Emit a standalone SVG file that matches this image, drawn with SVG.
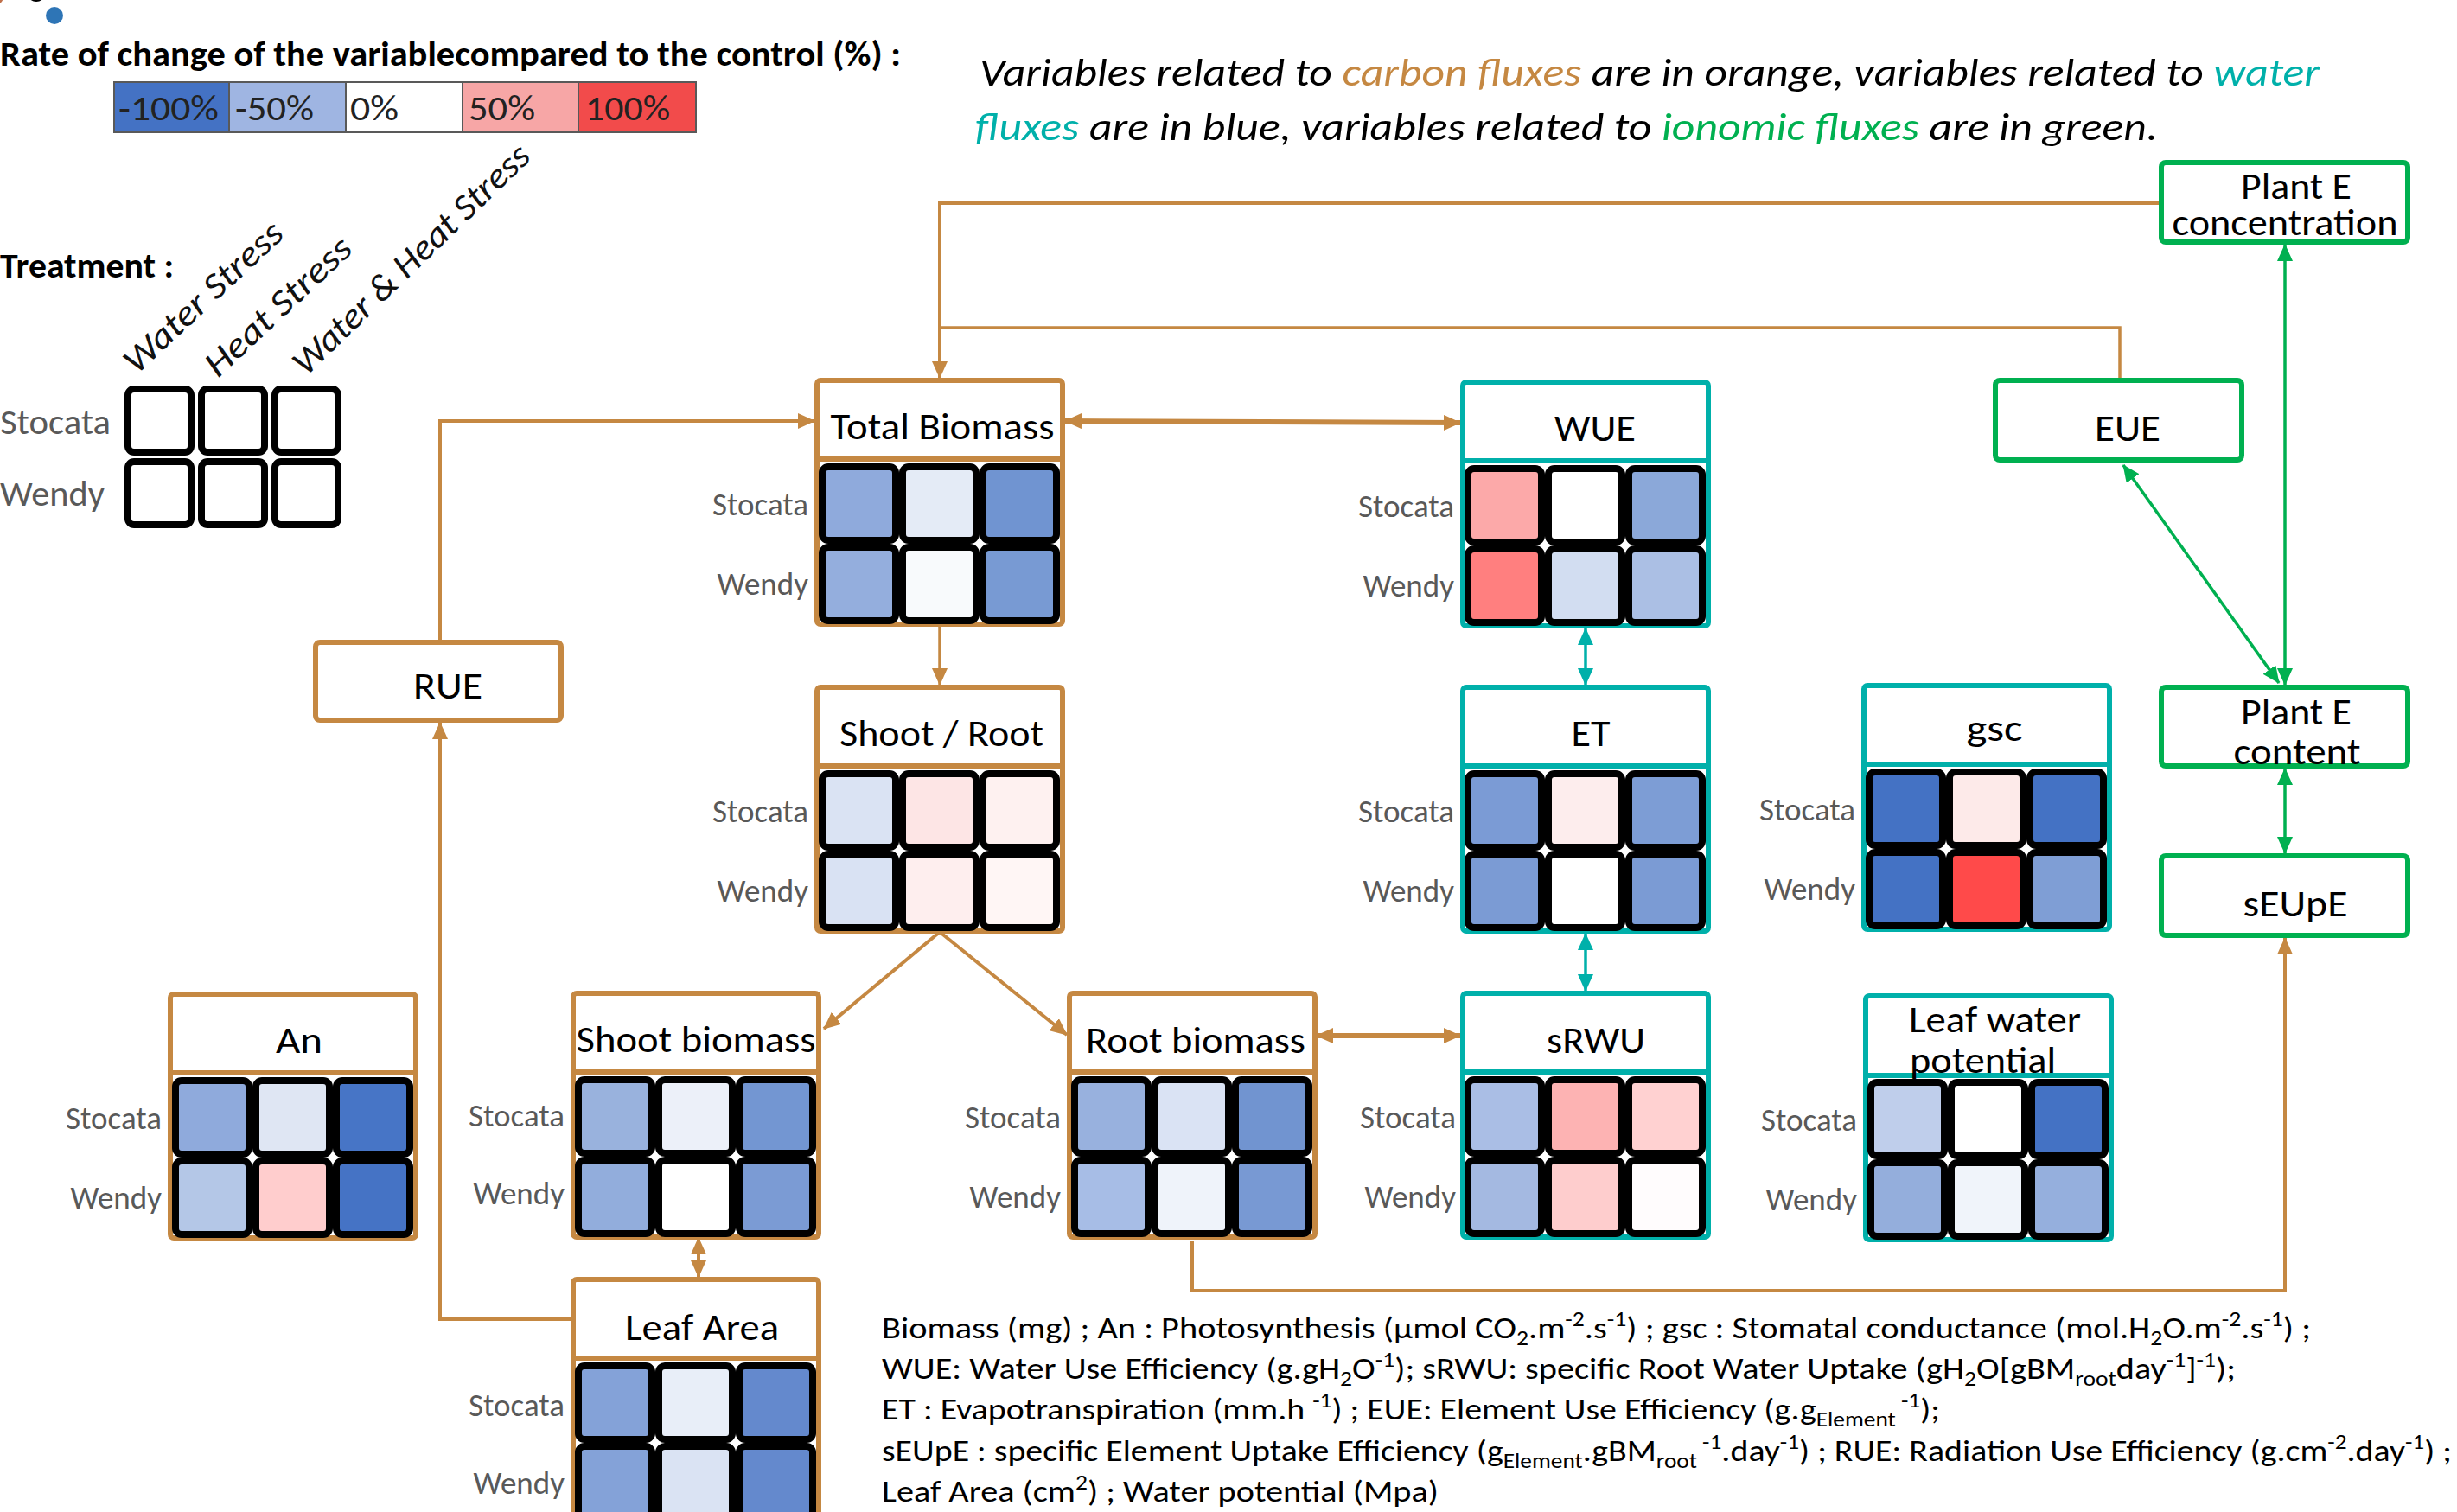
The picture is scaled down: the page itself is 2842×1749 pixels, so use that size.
<svg xmlns="http://www.w3.org/2000/svg" width="2842" height="1749" viewBox="0 0 2842 1749">
<style>
text{font-family:Carlito,Lato,"Liberation Sans",sans-serif}
.ob{fill:#fff;stroke:#C58842;stroke-width:6}
.tb{fill:#fff;stroke:#00B0AA;stroke-width:6}
.gb{fill:#fff;stroke:#00B050;stroke-width:6}
.os{stroke:#C58842;stroke-width:6}
.ts{stroke:#00B0AA;stroke-width:6}
.c{stroke:#000;stroke-width:8}
.lc{fill:#fff;stroke:#000;stroke-width:8}
.ti{font-size:44px;fill:#000;text-anchor:middle}
.lb{font-size:37px;fill:#595959;text-anchor:end}
.lg{font-size:40px;fill:#595959}
.co{fill:none;stroke:#C58842;stroke-width:4}
.ct{fill:none;stroke:#00B0AA;stroke-width:3.5}
.cg{fill:none;stroke:#00B050;stroke-width:3.5}
.rot{font-size:42px;font-style:italic;fill:#111}
.bt{font-size:35px;fill:#000}
.sc{font-size:40px;fill:#222}
</style>
<defs>
<marker id="ao" viewBox="0 0 20 18" refX="19" refY="9" markerWidth="20" markerHeight="18" markerUnits="userSpaceOnUse" orient="auto-start-reverse"><path d="M0,0 L20,9 L0,18 z" fill="#C58842"/></marker>
<marker id="at" viewBox="0 0 20 18" refX="19" refY="9" markerWidth="20" markerHeight="18" markerUnits="userSpaceOnUse" orient="auto-start-reverse"><path d="M0,0 L20,9 L0,18 z" fill="#00B0AA"/></marker>
<marker id="ag" viewBox="0 0 20 18" refX="19" refY="9" markerWidth="20" markerHeight="18" markerUnits="userSpaceOnUse" orient="auto-start-reverse"><path d="M0,0 L20,9 L0,18 z" fill="#00B050"/></marker>
</defs>
<rect width="2842" height="1749" fill="#fff"/>

<!-- logo remnants -->
<circle cx="-6" cy="-4" r="10" fill="#C0704A"/>
<circle cx="42" cy="-9" r="11" fill="#000"/>
<circle cx="63" cy="18" r="10" fill="#2E75B6"/>

<!-- legend -->
<g id="legend">
<text x="0" y="76" font-size="40" font-weight="bold" fill="#000" textLength="1042" lengthAdjust="spacingAndGlyphs">Rate of change of the variablecompared to the control (%) :</text>
<rect x="132" y="95" width="133" height="58" fill="#4472C4" stroke="#595959" stroke-width="2"/>
<rect x="265" y="95" width="135" height="58" fill="#9FB5E2" stroke="#595959" stroke-width="2"/>
<rect x="400" y="95" width="135" height="58" fill="#FFFFFF" stroke="#595959" stroke-width="2"/>
<rect x="535" y="95" width="134" height="58" fill="#F7A6A6" stroke="#595959" stroke-width="2"/>
<rect x="669" y="95" width="136" height="58" fill="#F24B4B" stroke="#595959" stroke-width="2"/>
<text class="sc" x="137" y="139" textLength="116" lengthAdjust="spacingAndGlyphs">-100%</text>
<text class="sc" x="272" y="139" textLength="91" lengthAdjust="spacingAndGlyphs">-50%</text>
<text class="sc" x="405" y="139" textLength="56" lengthAdjust="spacingAndGlyphs">0%</text>
<text class="sc" x="542" y="139" textLength="77" lengthAdjust="spacingAndGlyphs">50%</text>
<text class="sc" x="677" y="139" textLength="98" lengthAdjust="spacingAndGlyphs">100%</text>
<text x="0" y="321" font-size="40" font-weight="bold" fill="#000" textLength="201" lengthAdjust="spacingAndGlyphs">Treatment :</text>
<text class="rot" transform="translate(158,434) rotate(-43)" textLength="236" lengthAdjust="spacingAndGlyphs">Water Stress</text>
<text class="rot" transform="translate(252,438) rotate(-43)" textLength="216" lengthAdjust="spacingAndGlyphs">Heat Stress</text>
<text class="rot" transform="translate(354,436) rotate(-44)" textLength="364" lengthAdjust="spacingAndGlyphs">Water &amp; Heat Stress</text>
<rect class="lc" x="148" y="450" width="73" height="73" rx="7"/>
<rect class="lc" x="233" y="450" width="73" height="73" rx="7"/>
<rect class="lc" x="318" y="450" width="73" height="73" rx="7"/>
<rect class="lc" x="148" y="534" width="73" height="73" rx="7"/>
<rect class="lc" x="233" y="534" width="73" height="73" rx="7"/>
<rect class="lc" x="318" y="534" width="73" height="73" rx="7"/>
<text class="lg" x="0" y="502" textLength="128" lengthAdjust="spacingAndGlyphs">Stocata</text>
<text class="lg" x="0" y="585" textLength="121" lengthAdjust="spacingAndGlyphs">Wendy</text>
</g>

<!-- header note -->
<text x="1133" y="99" font-size="46" font-style="italic" fill="#000" textLength="1550" lengthAdjust="spacingAndGlyphs">Variables related to <tspan fill="#C58842">carbon fluxes</tspan> are in orange, variables related to <tspan fill="#00B0AA">water</tspan></text>
<text x="1128" y="162" font-size="46" font-style="italic" fill="#000" textLength="1368" lengthAdjust="spacingAndGlyphs"><tspan fill="#00B0AA">fluxes</tspan> are in blue, variables related to <tspan fill="#00B050">ionomic fluxes</tspan> are in green.</text>

<!-- connectors -->
<g id="connectors">
<polyline class="co" points="2498,235 1087,235 1087,437" marker-end="url(#ao)"/>
<polyline class="co" points="2452,437 2452,379 1087,379" style="stroke-width:3.5"/>
<polyline class="co" points="509,740 509,487 942,487" marker-end="url(#ao)"/>
<line class="co" x1="1232" y1="487" x2="1689" y2="489" style="stroke-width:6" marker-start="url(#ao)" marker-end="url(#ao)"/>
<line class="co" x1="1087" y1="725" x2="1087" y2="792" style="stroke-width:3.5" marker-end="url(#ao)"/>
<line class="co" x1="1087" y1="1078" x2="953" y2="1190" marker-end="url(#ao)"/>
<line class="co" x1="1087" y1="1078" x2="1234" y2="1197" marker-end="url(#ao)"/>
<line class="co" x1="1523" y1="1198" x2="1689" y2="1198" style="stroke-width:6" marker-start="url(#ao)" marker-end="url(#ao)"/>
<line class="ct" x1="1834" y1="727" x2="1834" y2="792" marker-start="url(#at)" marker-end="url(#at)"/>
<line class="ct" x1="1834" y1="1080" x2="1834" y2="1146" marker-start="url(#at)" marker-end="url(#at)"/>
<line class="co" x1="808" y1="1432" x2="808" y2="1477" marker-start="url(#ao)" marker-end="url(#ao)"/>
<polyline class="co" points="660,1526 509,1526 509,836" marker-end="url(#ao)"/>
<polyline class="co" points="1379,1435 1379,1493 2643,1493 2643,1085" marker-end="url(#ao)"/>
<line class="cg" x1="2643" y1="283" x2="2643" y2="792" marker-start="url(#ag)" marker-end="url(#ag)"/>
<line class="cg" x1="2456" y1="538" x2="2636" y2="790" marker-start="url(#ag)" marker-end="url(#ag)"/>
<line class="cg" x1="2643" y1="889" x2="2643" y2="987" marker-start="url(#ag)" marker-end="url(#ag)"/>
</g>

<!-- grid nodes -->
<g id="total-biomass" transform="translate(942,437)">
<rect class="ob" x="3" y="3" width="284" height="282" rx="4"/><line class="os" x1="3" y1="94" x2="287" y2="94"/>
<rect class="c" x="9" y="103" width="85" height="85" rx="7" fill="#8FAADC"/><rect class="c" x="102" y="103" width="85" height="85" rx="7" fill="#E4EBF6"/><rect class="c" x="195" y="103" width="85" height="85" rx="7" fill="#7094D1"/>
<rect class="c" x="9" y="196" width="85" height="85" rx="7" fill="#94AEDD"/><rect class="c" x="102" y="196" width="85" height="85" rx="7" fill="#F8FAFC"/><rect class="c" x="195" y="196" width="85" height="85" rx="7" fill="#789AD3"/>
<text class="ti" x="148" y="71" textLength="259" lengthAdjust="spacingAndGlyphs">Total Biomass</text>
<text class="lb" x="-7" y="159">Stocata</text><text class="lb" x="-7" y="251">Wendy</text>
</g>

<g id="shoot-root" transform="translate(942,792)">
<rect class="ob" x="3" y="3" width="284" height="282" rx="4"/><line class="os" x1="3" y1="94" x2="287" y2="94"/>
<rect class="c" x="9" y="103" width="85" height="85" rx="7" fill="#DAE3F3"/><rect class="c" x="102" y="103" width="85" height="85" rx="7" fill="#FDE5E5"/><rect class="c" x="195" y="103" width="85" height="85" rx="7" fill="#FEF1F0"/>
<rect class="c" x="9" y="196" width="85" height="85" rx="7" fill="#D9E2F3"/><rect class="c" x="102" y="196" width="85" height="85" rx="7" fill="#FEEEEE"/><rect class="c" x="195" y="196" width="85" height="85" rx="7" fill="#FFF6F5"/>
<text class="ti" x="147" y="71" textLength="236" lengthAdjust="spacingAndGlyphs">Shoot / Root</text>
<text class="lb" x="-7" y="159">Stocata</text><text class="lb" x="-7" y="251">Wendy</text>
</g>

<g id="wue" transform="translate(1689,439)">
<rect class="tb" x="3" y="3" width="284" height="282" rx="4"/><line class="ts" x1="3" y1="94" x2="287" y2="94"/>
<rect class="c" x="9" y="103" width="85" height="85" rx="7" fill="#FCA9A9"/><rect class="c" x="102" y="103" width="85" height="85" rx="7" fill="#FFFFFF"/><rect class="c" x="195" y="103" width="85" height="85" rx="7" fill="#8BA8D9"/>
<rect class="c" x="9" y="196" width="85" height="85" rx="7" fill="#FF7F7F"/><rect class="c" x="102" y="196" width="85" height="85" rx="7" fill="#D2DDF1"/><rect class="c" x="195" y="196" width="85" height="85" rx="7" fill="#ABBFE4"/>
<text class="ti" x="156" y="71" textLength="94" lengthAdjust="spacingAndGlyphs">WUE</text>
<text class="lb" x="-7" y="159">Stocata</text><text class="lb" x="-7" y="251">Wendy</text>
</g>

<g id="et" transform="translate(1689,792)">
<rect class="tb" x="3" y="3" width="284" height="282" rx="4"/><line class="ts" x1="3" y1="94" x2="287" y2="94"/>
<rect class="c" x="9" y="103" width="85" height="85" rx="7" fill="#7B9BD5"/><rect class="c" x="102" y="103" width="85" height="85" rx="7" fill="#FDEDED"/><rect class="c" x="195" y="103" width="85" height="85" rx="7" fill="#7D9DD5"/>
<rect class="c" x="9" y="196" width="85" height="85" rx="7" fill="#7B9BD4"/><rect class="c" x="102" y="196" width="85" height="85" rx="7" fill="#FFFFFF"/><rect class="c" x="195" y="196" width="85" height="85" rx="7" fill="#7B9BD4"/>
<text class="ti" x="151" y="71" textLength="45" lengthAdjust="spacingAndGlyphs">ET</text>
<text class="lb" x="-7" y="159">Stocata</text><text class="lb" x="-7" y="251">Wendy</text>
</g>

<g id="srwu" transform="translate(1689,1146)">
<rect class="tb" x="3" y="3" width="284" height="282" rx="4"/><line class="ts" x1="3" y1="94" x2="287" y2="94"/>
<rect class="c" x="9" y="103" width="85" height="85" rx="7" fill="#AABEE5"/><rect class="c" x="102" y="103" width="85" height="85" rx="7" fill="#FDB3B3"/><rect class="c" x="195" y="103" width="85" height="85" rx="7" fill="#FFD1D1"/>
<rect class="c" x="9" y="196" width="85" height="85" rx="7" fill="#A4B9E1"/><rect class="c" x="102" y="196" width="85" height="85" rx="7" fill="#FECDCD"/><rect class="c" x="195" y="196" width="85" height="85" rx="7" fill="#FFFCFD"/>
<text class="ti" x="157" y="72" textLength="114" lengthAdjust="spacingAndGlyphs">sRWU</text>
<text class="lb" x="-5" y="159">Stocata</text><text class="lb" x="-5" y="251">Wendy</text>
</g>

<g id="gsc" transform="translate(2153,790)">
<rect class="tb" x="3" y="3" width="284" height="282" rx="4"/><line class="ts" x1="3" y1="94" x2="287" y2="94"/>
<rect class="c" x="9" y="103" width="85" height="85" rx="7" fill="#4472C4"/><rect class="c" x="102" y="103" width="85" height="85" rx="7" fill="#FDEAE9"/><rect class="c" x="195" y="103" width="85" height="85" rx="7" fill="#4472C4"/>
<rect class="c" x="9" y="196" width="85" height="85" rx="7" fill="#4472C4"/><rect class="c" x="102" y="196" width="85" height="85" rx="7" fill="#FF4A4A"/><rect class="c" x="195" y="196" width="85" height="85" rx="7" fill="#7F9ED5"/>
<text class="ti" x="154" y="67" textLength="65" lengthAdjust="spacingAndGlyphs">gsc</text>
<text class="lb" x="-7" y="159">Stocata</text><text class="lb" x="-7" y="251">Wendy</text>
</g>

<g id="leaf-water-potential" transform="translate(2155,1149)">
<rect class="tb" x="3" y="3" width="284" height="282" rx="4"/><line class="ts" x1="3" y1="95" x2="287" y2="95"/>
<rect class="c" x="9" y="103" width="85" height="85" rx="7" fill="#BFCEEB"/><rect class="c" x="102" y="103" width="85" height="85" rx="7" fill="#FFFFFF"/><rect class="c" x="195" y="103" width="85" height="85" rx="7" fill="#4472C4"/>
<rect class="c" x="9" y="196" width="85" height="85" rx="7" fill="#94AEDC"/><rect class="c" x="102" y="196" width="85" height="85" rx="7" fill="#F0F4FA"/><rect class="c" x="195" y="196" width="85" height="85" rx="7" fill="#95AFDD"/>
<text class="ti" x="53" y="45" style="text-anchor:start" textLength="199" lengthAdjust="spacingAndGlyphs">Leaf water</text>
<text class="ti" x="54" y="92" style="text-anchor:start" textLength="169" lengthAdjust="spacingAndGlyphs">potential</text>
<text class="lb" x="-7" y="159">Stocata</text><text class="lb" x="-7" y="251">Wendy</text>
</g>

<g id="root-biomass" transform="translate(1234,1146)">
<rect class="ob" x="3" y="3" width="284" height="282" rx="4"/><line class="os" x1="3" y1="94" x2="287" y2="94"/>
<rect class="c" x="9" y="103" width="85" height="85" rx="7" fill="#98B1DE"/><rect class="c" x="102" y="103" width="85" height="85" rx="7" fill="#DAE3F4"/><rect class="c" x="195" y="103" width="85" height="85" rx="7" fill="#7194D0"/>
<rect class="c" x="9" y="196" width="85" height="85" rx="7" fill="#A7BDE6"/><rect class="c" x="102" y="196" width="85" height="85" rx="7" fill="#EFF3FA"/><rect class="c" x="195" y="196" width="85" height="85" rx="7" fill="#7899D3"/>
<text class="ti" x="149" y="72" textLength="254" lengthAdjust="spacingAndGlyphs">Root biomass</text>
<text class="lb" x="-7" y="159">Stocata</text><text class="lb" x="-7" y="251">Wendy</text>
</g>

<g id="shoot-biomass" transform="translate(660,1146)">
<rect class="ob" x="3" y="3" width="284" height="282" rx="4"/><line class="os" x1="3" y1="94" x2="287" y2="94"/>
<rect class="c" x="9" y="103" width="85" height="85" rx="7" fill="#99B2DD"/><rect class="c" x="102" y="103" width="85" height="85" rx="7" fill="#ECF0F9"/><rect class="c" x="195" y="103" width="85" height="85" rx="7" fill="#7396D2"/>
<rect class="c" x="9" y="196" width="85" height="85" rx="7" fill="#92ADDC"/><rect class="c" x="102" y="196" width="85" height="85" rx="7" fill="#FFFFFF"/><rect class="c" x="195" y="196" width="85" height="85" rx="7" fill="#7B9BD4"/>
<text class="ti" x="145" y="71" textLength="277" lengthAdjust="spacingAndGlyphs">Shoot biomass</text>
<text class="lb" x="-7" y="157">Stocata</text><text class="lb" x="-7" y="247">Wendy</text>
</g>

<g id="an" transform="translate(194,1147)">
<rect class="ob" x="3" y="3" width="284" height="282" rx="4"/><line class="os" x1="3" y1="94" x2="287" y2="94"/>
<rect class="c" x="9" y="103" width="85" height="85" rx="7" fill="#8FAADC"/><rect class="c" x="102" y="103" width="85" height="85" rx="7" fill="#DFE6F3"/><rect class="c" x="195" y="103" width="85" height="85" rx="7" fill="#4775C6"/>
<rect class="c" x="9" y="196" width="85" height="85" rx="7" fill="#B4C7E7"/><rect class="c" x="102" y="196" width="85" height="85" rx="7" fill="#FFCDCD"/><rect class="c" x="195" y="196" width="85" height="85" rx="7" fill="#4573C5"/>
<text class="ti" x="152" y="71" textLength="54" lengthAdjust="spacingAndGlyphs">An</text>
<text class="lb" x="-7" y="159">Stocata</text><text class="lb" x="-7" y="251">Wendy</text>
</g>

<g id="leaf-area" transform="translate(660,1477)">
<rect class="ob" x="3" y="3" width="284" height="282" rx="4"/><line class="os" x1="3" y1="94" x2="287" y2="94"/>
<rect class="c" x="9" y="103" width="85" height="85" rx="7" fill="#84A2D8"/><rect class="c" x="102" y="103" width="85" height="85" rx="7" fill="#E8EEF8"/><rect class="c" x="195" y="103" width="85" height="85" rx="7" fill="#6489CD"/>
<rect class="c" x="9" y="196" width="85" height="85" rx="7" fill="#84A2D8"/><rect class="c" x="102" y="196" width="85" height="85" rx="7" fill="#DAE3F3"/><rect class="c" x="195" y="196" width="85" height="85" rx="7" fill="#6489CD"/>
<text class="ti" x="152" y="73" textLength="178" lengthAdjust="spacingAndGlyphs">Leaf Area</text>
<text class="lb" x="-7" y="161">Stocata</text><text class="lb" x="-7" y="251">Wendy</text>
</g>

<!-- simple boxes -->
<g id="rue"><rect class="ob" x="365" y="743" width="284" height="90" rx="5"/><text class="ti" x="518" y="808" textLength="80" lengthAdjust="spacingAndGlyphs">RUE</text></g>
<g id="eue"><rect class="gb" x="2308" y="440" width="285" height="92" rx="5"/><text class="ti" x="2461" y="510" textLength="76" lengthAdjust="spacingAndGlyphs">EUE</text></g>
<g id="plant-e-concentration"><rect class="gb" x="2500" y="188" width="285" height="92" rx="5"/><text class="ti" x="2656" y="230" textLength="128" lengthAdjust="spacingAndGlyphs">Plant E</text><text class="ti" x="2643" y="272" textLength="261" lengthAdjust="spacingAndGlyphs">concentration</text></g>
<g id="plant-e-content"><rect class="gb" x="2500" y="795" width="285" height="91" rx="5"/><text class="ti" x="2656" y="838" textLength="128" lengthAdjust="spacingAndGlyphs">Plant E</text><text class="ti" x="2657" y="884" textLength="147" lengthAdjust="spacingAndGlyphs">content</text></g>
<g id="seupe"><rect class="gb" x="2500" y="990" width="285" height="92" rx="5"/><text class="ti" x="2655" y="1060" textLength="121" lengthAdjust="spacingAndGlyphs">sEUpE</text></g>

<!-- definitions text -->
<g id="abbreviations">
<text class="bt" x="1020" y="1548" textLength="1653" lengthAdjust="spacingAndGlyphs">Biomass (mg) ; An :  Photosynthesis (µmol CO<tspan font-size="24" dy="8">2</tspan><tspan dy="-8">.m</tspan><tspan font-size="24" dy="-14">-2</tspan><tspan dy="14">.s</tspan><tspan font-size="24" dy="-14">-1</tspan><tspan dy="14">) ; gsc : Stomatal conductance (mol.H</tspan><tspan font-size="24" dy="8">2</tspan><tspan dy="-8">O.m</tspan><tspan font-size="24" dy="-14">-2</tspan><tspan dy="14">.s</tspan><tspan font-size="24" dy="-14">-1</tspan><tspan dy="14">) ;</tspan></text>
<text class="bt" x="1020" y="1595" textLength="1566" lengthAdjust="spacingAndGlyphs">WUE: Water Use Efficiency (g.gH<tspan font-size="24" dy="8">2</tspan><tspan dy="-8">O</tspan><tspan font-size="24" dy="-14">-1</tspan><tspan dy="14">); sRWU: specific Root Water Uptake (gH</tspan><tspan font-size="24" dy="8">2</tspan><tspan dy="-8">O[gBM</tspan><tspan font-size="24" dy="8">root</tspan><tspan dy="-8">day</tspan><tspan font-size="24" dy="-14">-1</tspan><tspan dy="14">]</tspan><tspan font-size="24" dy="-14">-1</tspan><tspan dy="14">);</tspan></text>
<text class="bt" x="1020" y="1642" textLength="1224" lengthAdjust="spacingAndGlyphs">ET : Evapotranspiration (mm.h <tspan font-size="24" dy="-14">-1</tspan><tspan dy="14">) ; EUE: Element Use Efficiency (g.g</tspan><tspan font-size="24" dy="8">Element</tspan><tspan font-size="24" dy="-22"> -1</tspan><tspan dy="14">);</tspan></text>
<text class="bt" x="1020" y="1690" textLength="1816" lengthAdjust="spacingAndGlyphs">sEUpE : specific Element Uptake Efficiency (g<tspan font-size="24" dy="8">Element</tspan><tspan dy="-8">.gBM</tspan><tspan font-size="24" dy="8">root</tspan><tspan font-size="24" dy="-22"> -1</tspan><tspan dy="14">.day</tspan><tspan font-size="24" dy="-14">-1</tspan><tspan dy="14">) ; RUE: Radiation Use  Efficiency (g.cm</tspan><tspan font-size="24" dy="-14">-2</tspan><tspan dy="14">.day</tspan><tspan font-size="24" dy="-14">-1</tspan><tspan dy="14">) ;</tspan></text>
<text class="bt" x="1020" y="1737" textLength="644" lengthAdjust="spacingAndGlyphs">Leaf Area (cm<tspan font-size="24" dy="-14">2</tspan><tspan dy="14">) ; Water potential (Mpa)</tspan></text>
</g>
</svg>
